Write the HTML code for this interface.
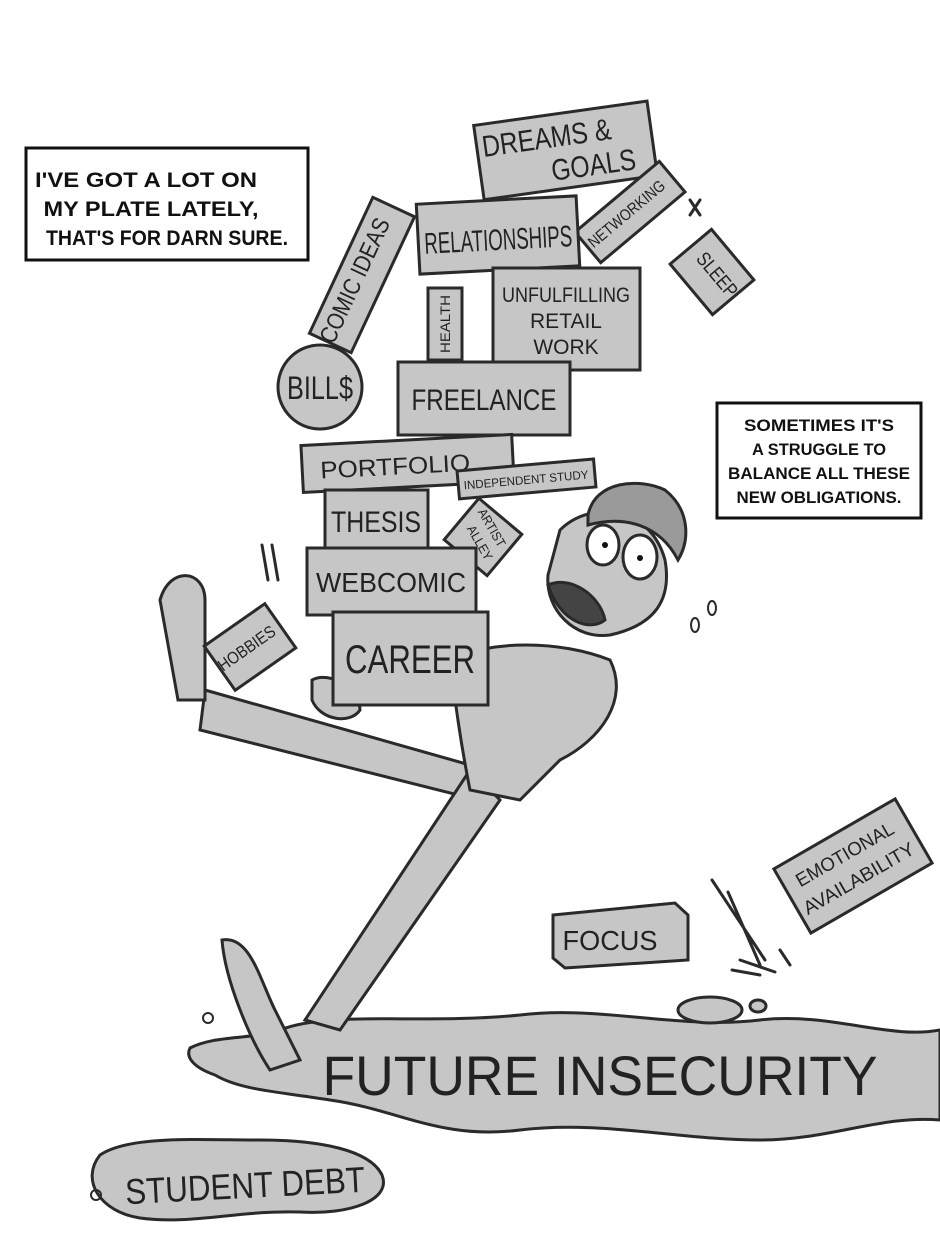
<!DOCTYPE html>
<html><head><meta charset="utf-8"><style>
html,body{margin:0;padding:0;background:#fff;}
svg{display:block;}
.b{fill:#c6c6c6;stroke:#2a2a2a;stroke-width:3;}
.t{font-family:"Liberation Sans",sans-serif;fill:#222;text-anchor:middle;}
.cap{font-family:"Liberation Sans",sans-serif;font-weight:bold;fill:#111;text-anchor:middle;}
.ln{fill:none;stroke:#2a2a2a;stroke-width:3;stroke-linecap:round;stroke-linejoin:round;}
</style></head><body>
<svg width="940" height="1253" viewBox="0 0 940 1253" xmlns="http://www.w3.org/2000/svg">
<!-- captions -->
<rect x="26" y="148" width="282" height="112" fill="#fff" stroke="#111" stroke-width="3"/>
<text class="cap" font-size="21" x="146" y="187" textLength="222" lengthAdjust="spacingAndGlyphs">I'VE GOT A LOT ON</text>
<text class="cap" font-size="21" x="151" y="216" textLength="215" lengthAdjust="spacingAndGlyphs">MY PLATE LATELY,</text>
<text class="cap" font-size="21" x="167" y="245" textLength="242" lengthAdjust="spacingAndGlyphs">THAT'S FOR DARN SURE.</text>
<rect x="717" y="403" width="204" height="115" fill="#fff" stroke="#111" stroke-width="3"/>
<text class="cap" font-size="17" x="819" y="431" textLength="150" lengthAdjust="spacingAndGlyphs">SOMETIMES IT'S</text>
<text class="cap" font-size="17" x="819" y="455" textLength="134" lengthAdjust="spacingAndGlyphs">A STRUGGLE TO</text>
<text class="cap" font-size="17" x="819" y="479" textLength="182" lengthAdjust="spacingAndGlyphs">BALANCE ALL THESE</text>
<text class="cap" font-size="17" x="819" y="503" textLength="165" lengthAdjust="spacingAndGlyphs">NEW OBLIGATIONS.</text>

<!-- puddles -->
<path class="b" d="M190,1048 C215,1035 250,1040 280,1030 C330,1010 420,1025 520,1015 C600,1005 680,1030 760,1020 C830,1012 890,1040 940,1030 L940,1120 C880,1115 830,1140 760,1140 C680,1140 600,1120 520,1130 C440,1140 400,1110 330,1100 C280,1092 240,1090 215,1075 C195,1068 185,1058 190,1048 Z"/>
<text class="t" font-size="56" x="600" y="1095" textLength="555" lengthAdjust="spacingAndGlyphs">FUTURE INSECURITY</text>
<path class="b" d="M100,1155 C130,1135 200,1140 260,1140 C320,1140 370,1150 382,1175 C392,1200 350,1215 300,1212 C240,1210 190,1225 140,1218 C100,1212 80,1180 100,1155 Z"/>
<text class="t" font-size="36" x="245" y="1198" transform="rotate(-3 245 1185)" textLength="240" lengthAdjust="spacingAndGlyphs">STUDENT DEBT</text>
<ellipse class="b" cx="710" cy="1010" rx="32" ry="13"/>
<ellipse class="b" cx="758" cy="1006" rx="8" ry="6"/>

<!-- figure: legs -->
<path class="b" d="M205,690 L470,765 L478,800 L200,730 Z"/>
<path class="b" d="M470,770 L500,800 L340,1030 L305,1020 Z"/>
<path class="b" d="M160,600 C170,565 205,570 205,600 L205,700 L178,700 Z"/>
<path class="b" d="M222,940 C250,935 260,980 275,1010 L300,1060 L270,1070 C250,1040 225,980 222,940 Z"/>
<!-- body -->
<path class="b" d="M450,660 C490,640 560,640 610,660 C630,700 600,740 560,760 L520,800 L470,790 C460,740 455,700 450,660 Z"/>
<!-- head -->
<path class="b" d="M560,530 C590,500 650,505 665,560 C672,600 655,625 610,635 C575,640 545,610 548,575 Z"/>
<path d="M588,515 C595,480 640,478 665,490 C690,510 690,540 678,560 C660,525 625,515 588,525 Z" fill="#9a9a9a" stroke="#2a2a2a" stroke-width="3"/>
<ellipse cx="603" cy="545" rx="16" ry="20" fill="#fff" stroke="#2a2a2a" stroke-width="3"/>
<ellipse cx="640" cy="557" rx="17" ry="22" fill="#fff" stroke="#2a2a2a" stroke-width="3"/>
<circle cx="605" cy="545" r="3" fill="#111"/><circle cx="640" cy="558" r="3" fill="#111"/>
<path d="M548,585 C570,575 600,595 605,620 C590,632 560,622 548,585 Z" fill="#444" stroke="#2a2a2a" stroke-width="3"/>
<!-- arms -->
<path class="b" d="M312,680 C330,670 360,690 360,710 C350,725 320,720 312,700 Z"/>

<!-- boxes -->
<rect class="b" x="-87" y="-37" width="175" height="75" transform="translate(565 150) rotate(-8)"/>
<text class="t" font-size="30" transform="translate(548 148) rotate(-8)" textLength="130" lengthAdjust="spacingAndGlyphs">DREAMS &amp;</text>
<text class="t" font-size="30" transform="translate(595 175) rotate(-8)" textLength="85" lengthAdjust="spacingAndGlyphs">GOALS</text>
<rect class="b" x="-55" y="-20" width="110" height="40" transform="translate(630 212) rotate(-40)"/>
<text class="t" font-size="16" transform="translate(630 218) rotate(-40)" textLength="95" lengthAdjust="spacingAndGlyphs">NETWORKING</text>
<rect class="b" x="-33" y="-27" width="66" height="54" transform="translate(712 272) rotate(50)"/>
<text class="t" font-size="20" transform="translate(712 279) rotate(50)" textLength="52" lengthAdjust="spacingAndGlyphs">SLEEP</text>
<rect class="b" x="418" y="200" width="160" height="70" transform="rotate(-3 498 235)"/>
<text class="t" font-size="30" x="498" y="250" transform="rotate(-3 498 235)" textLength="148" lengthAdjust="spacingAndGlyphs">RELATIONSHIPS</text>
<rect class="b" x="-75" y="-23" width="150" height="46" transform="translate(362 275) rotate(-65)"/>
<text class="t" font-size="24" transform="translate(362 284) rotate(-65)" textLength="135" lengthAdjust="spacingAndGlyphs">COMIC IDEAS</text>
<rect class="b" x="428" y="288" width="34" height="72"/>
<text class="t" font-size="14" transform="translate(450 324) rotate(-90)" textLength="58" lengthAdjust="spacingAndGlyphs">HEALTH</text>
<rect class="b" x="493" y="268" width="147" height="102"/>
<text class="t" font-size="21" x="566" y="302" textLength="128" lengthAdjust="spacingAndGlyphs">UNFULFILLING</text>
<text class="t" font-size="21" x="566" y="328">RETAIL</text>
<text class="t" font-size="21" x="566" y="354">WORK</text>
<circle class="b" cx="320" cy="387" r="42"/>
<text class="t" font-size="32" x="320" y="399" textLength="66" lengthAdjust="spacingAndGlyphs">BILL$</text>
<rect class="b" x="398" y="362" width="172" height="73"/>
<text class="t" font-size="30" x="484" y="410" textLength="145" lengthAdjust="spacingAndGlyphs">FREELANCE</text>
<rect class="b" x="302" y="440" width="211" height="47" transform="rotate(-3 407 463)"/>
<text class="t" font-size="24" x="395" y="474" transform="rotate(-3 407 463)" textLength="150" lengthAdjust="spacingAndGlyphs">PORTFOLIO</text>
<rect class="b" x="458" y="465" width="137" height="28" transform="rotate(-5 526 479)"/>
<text class="t" font-size="12" x="526" y="484" transform="rotate(-5 526 479)" textLength="125" lengthAdjust="spacingAndGlyphs">INDEPENDENT STUDY</text>
<rect class="b" x="325" y="490" width="103" height="60"/>
<text class="t" font-size="30" x="376" y="532" textLength="90" lengthAdjust="spacingAndGlyphs">THESIS</text>
<rect class="b" x="-28" y="-27" width="56" height="54" transform="translate(483 537) rotate(40)"/>
<text class="t" font-size="13" transform="translate(488 530) rotate(60)" textLength="42" lengthAdjust="spacingAndGlyphs">ARTIST</text>
<text class="t" font-size="13" transform="translate(476 545) rotate(60)" textLength="38" lengthAdjust="spacingAndGlyphs">ALLEY</text>
<rect class="b" x="307" y="548" width="169" height="67"/>
<text class="t" font-size="28" x="391" y="592" textLength="150" lengthAdjust="spacingAndGlyphs">WEBCOMIC</text>
<rect class="b" x="333" y="612" width="155" height="93"/>
<text class="t" font-size="40" x="410" y="673" textLength="130" lengthAdjust="spacingAndGlyphs">CAREER</text>
<rect class="b" x="-37" y="-27" width="74" height="54" transform="translate(250 647) rotate(-35)"/>
<text class="t" font-size="17" transform="translate(250 653) rotate(-35)" textLength="66" lengthAdjust="spacingAndGlyphs">HOBBIES</text>
<path class="b" d="M553,915 L675,903 L688,915 L688,960 L565,968 L553,958 Z"/>
<text class="t" font-size="28" x="610" y="950" textLength="95" lengthAdjust="spacingAndGlyphs">FOCUS</text>
<rect class="b" x="-70" y="-37" width="140" height="74" transform="translate(853 866) rotate(-30)"/>
<text class="t" font-size="19" transform="translate(848 860) rotate(-30)" textLength="110" lengthAdjust="spacingAndGlyphs">EMOTIONAL</text>
<text class="t" font-size="19" transform="translate(862 884) rotate(-30)" textLength="125" lengthAdjust="spacingAndGlyphs">AVAILABILITY</text>

<!-- motion lines -->
<path class="ln" d="M712,880 L765,960 M728,892 L760,965 M740,960 L775,972 M780,950 L790,965 M732,970 L760,975"/>
<path class="ln" d="M690,200 L700,215 M700,200 L690,215"/>
<path class="ln" d="M262,545 L268,580 M272,545 L278,580"/>
<ellipse cx="695" cy="625" rx="4" ry="7" fill="none" stroke="#2a2a2a" stroke-width="2"/>
<ellipse cx="712" cy="608" rx="4" ry="7" fill="none" stroke="#2a2a2a" stroke-width="2"/>
<circle cx="208" cy="1018" r="5" fill="none" stroke="#2a2a2a" stroke-width="2"/>
<circle cx="96" cy="1195" r="5" fill="none" stroke="#2a2a2a" stroke-width="2"/>
</svg>
</body></html>
